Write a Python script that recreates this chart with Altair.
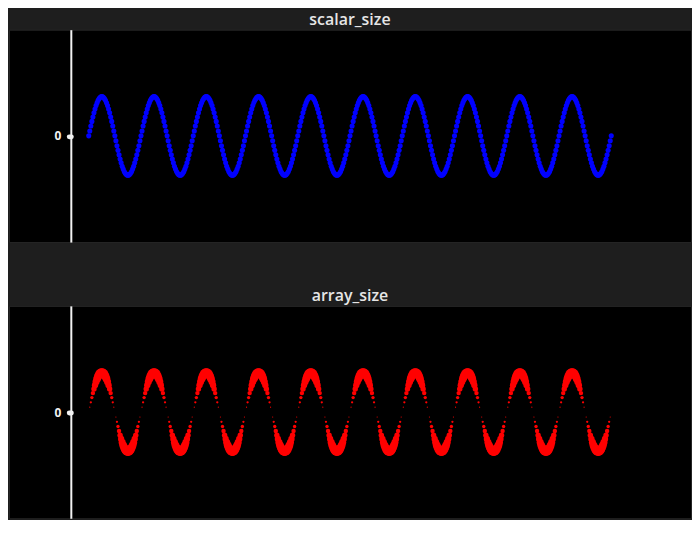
import altair as alt
import pandas as pd

# one cycle of the sine-shaped series (50 samples)
cycle_y = [0.000, 0.125, 0.249, 0.368, 0.482, 0.588, 0.685, 0.771, 0.844, 0.905,
           0.951, 0.982, 0.998, 0.998, 0.982, 0.951, 0.905, 0.844, 0.771, 0.685,
           0.588, 0.482, 0.368, 0.249, 0.125,
           0.000, -0.125, -0.249, -0.368, -0.482, -0.588, -0.685, -0.771, -0.844, -0.905,
           -0.951, -0.982, -0.998, -0.998, -0.982, -0.951, -0.905, -0.844, -0.771, -0.685,
           -0.588, -0.482, -0.368, -0.249, -0.125]
n_cycles = 10
y_values = cycle_y * n_cycles + [0.0]
x_values = list(range(len(y_values)))

titles = ["scalar_size", "array_size"]
colors = ["#0000ff", "#ff0000"]
y_ticks = [0]

df = pd.DataFrame({"x": x_values, "y": y_values})

x_enc = alt.X("x:Q", scale=alt.Scale(domain=[-76.3, 576.3], nice=False, zero=False), axis=None)
y_enc = alt.Y(
    "y:Q",
    scale=alt.Scale(domain=[-2.7, 2.7], nice=False, zero=False),
    axis=alt.Axis(
        values=y_ticks, offset=-62, title=None, grid=False,
        domainColor="#f2f2f2", domainWidth=2,
        tickColor="#f2f2f2", tickSize=2, tickWidth=5, tickCap="round",
        labelColor="#f2f2f2", labelFontSize=12, labelFontWeight="bold",
        labelFont="Open Sans", labelPadding=8,
    ),
)

top = alt.Chart(df, title=titles[0]).mark_circle(color=colors[0], opacity=1).encode(
    x=x_enc, y=y_enc, size=alt.value(26)
).properties(width=684, height=213)

bottom = alt.Chart(df, title=titles[1]).transform_calculate(
    s="85 * datum.y * datum.y"
).mark_circle(color=colors[1], opacity=1).encode(
    x=x_enc, y=y_enc, size=alt.Size("s:Q", scale=None, legend=None)
).properties(width=684, height=213)

chart = alt.vconcat(top, bottom, spacing=44).configure(
    background="#1e1e1e", padding={"left": 0, "right": 0, "top": 2, "bottom": 0}
).configure_view(
    fill="black", stroke="#262626"
).configure_title(
    font="Open Sans", fontSize=16, fontWeight=600, color="#e6e6e6", offset=2, anchor="middle"
)

chart.save("out.html", embed_options={"renderer": "svg", "actions": False})
